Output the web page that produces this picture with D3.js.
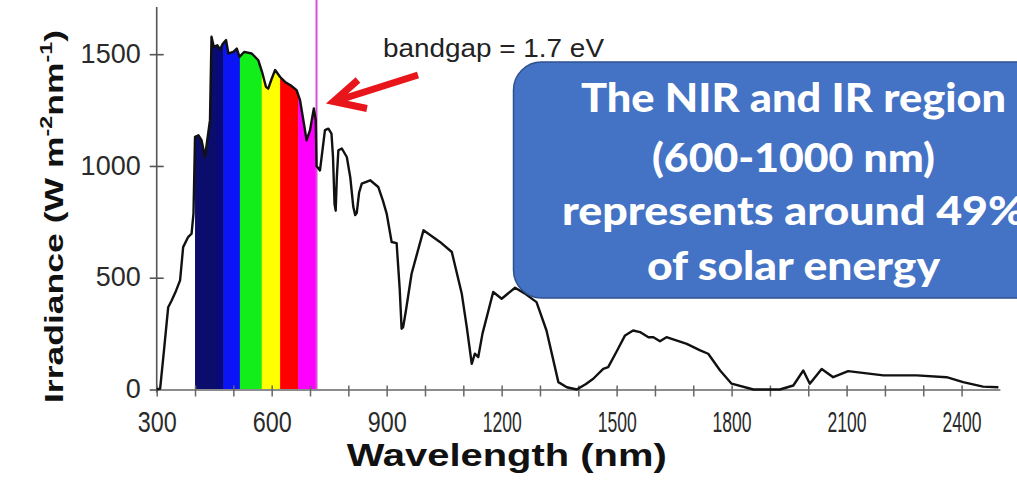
<!DOCTYPE html>
<html>
<head>
<meta charset="utf-8">
<script src="https://cdn.jsdelivr.net/npm/d3@7"></script>
<style>
  html, body { margin: 0; padding: 0; background: #ffffff; }
  svg { display: block; }
</style>
</head>
<body>
<div id="chart"></div>
<script>
// ---------------- data ----------------
const wavelength = [300, 309, 319, 330, 339, 350, 361, 369, 382, 391, 396, 400, 409, 417, 426, 439, 443, 449, 458, 465, 472, 481, 487, 500, 509, 516, 528, 548, 565, 575, 585, 591, 600, 609, 622, 635, 650, 665, 674, 685, 691, 700, 710, 715, 717, 726, 739, 748, 756, 760, 764, 767, 770, 774, 783, 796, 805, 813, 818, 822, 828, 835, 857, 878, 890, 900, 913, 926, 934, 939, 943, 950, 965, 996, 1039, 1070, 1096, 1109, 1122, 1130, 1139, 1150, 1178, 1200, 1235, 1260, 1291, 1317, 1348, 1370, 1396, 1420, 1439, 1465, 1478, 1500, 1522, 1543, 1561, 1583, 1596, 1613, 1630, 1683, 1718, 1739, 1770, 1800, 1857, 1926, 1961, 1987, 2004, 2035, 2065, 2104, 2196, 2283, 2361, 2404, 2456, 2496];
const irradiance = [0, 4, 175, 368, 398, 440, 488, 637, 682, 697, 787, 1130, 1137, 1115, 1040, 1205, 1578, 1533, 1540, 1520, 1545, 1563, 1503, 1510, 1525, 1488, 1510, 1503, 1473, 1420, 1354, 1346, 1390, 1429, 1398, 1376, 1360, 1339, 1294, 1180, 1115, 1160, 1257, 1205, 1000, 980, 1160, 1167, 1145, 1040, 830, 800, 950, 1070, 1078, 1040, 950, 816, 780, 790, 880, 921, 936, 906, 846, 787, 660, 655, 450, 272, 279, 350, 518, 712, 660, 615, 428, 279, 115, 160, 145, 250, 436, 406, 455, 430, 391, 264, 33, 10, 0, 25, 48, 92, 100, 170, 242, 264, 257, 234, 234, 216, 234, 204, 175, 160, 85, 26, 0, 0, 18, 85, 26, 92, 55, 82, 63, 63, 55, 33, 13, 10];

const bandEdges = [400, 456, 474, 517, 574, 622, 669, 717];   // visible spectrum bands (nm)
const bandgapNm = 717;                                          // bandgap marker (nm)
const yTickValues = [0, 500, 1000, 1500];
const xTickLabels = [300, 600, 900, 1200, 1500, 1800, 2100, 2400];
const xMinorTicks = [300, 400, 500, 600, 700, 800, 900, 1000, 1100, 1200, 1300, 1400, 1500, 1600, 1700, 1800, 1900, 2000, 2100, 2200, 2300, 2400];
const xTitle = "Wavelength (nm)";
const bandgapLabel = "bandgap = 1.7 eV";
const calloutLines = ["The NIR and IR region", "(600-1000 nm)", "represents around 49%", "of solar energy"];

// ---------------- styles ----------------
const bandColors = ["#0b0d6c", "#07097c", "#0a14f4", "#12ee1a", "#ffff00", "#ff0000", "#ff00ff"];

const W = 1017, H = 482;
const svg = d3.select("#chart").append("svg").attr("width", W).attr("height", H);
svg.append("rect").attr("width", W).attr("height", H).attr("fill", "#ffffff");

const x = d3.scaleLinear().domain([300, 2500]).range([156.7, 999.9]);
const y = d3.scaleLinear().domain([0, 1720]).range([389.5, 5]);

const pts = wavelength.map((w, i) => [w, irradiance[i]]);

// clip region = area under curve within visible range
const interp = (w) => {
  for (let i = 0; i < wavelength.length - 1; i++) {
    if (w >= wavelength[i] && w <= wavelength[i + 1]) {
      const t = (w - wavelength[i]) / (wavelength[i + 1] - wavelength[i]);
      return irradiance[i] + t * (irradiance[i + 1] - irradiance[i]);
    }
  }
  return 0;
};
const lo = bandEdges[0], hi = bandEdges[bandEdges.length - 1];
const visPts = [[lo, interp(lo)]].concat(pts.filter(p => p[0] > lo && p[0] < hi)).concat([[hi, interp(hi)]]);
const area = d3.area().x(d => x(d[0])).y0(y(0)).y1(d => y(d[1]));
svg.append("clipPath").attr("id", "underCurve").append("path").attr("d", area(visPts));

const bands = svg.append("g").attr("clip-path", "url(#underCurve)");
for (let i = 0; i < bandEdges.length - 1; i++) {
  bands.append("rect")
    .attr("x", x(bandEdges[i]))
    .attr("width", x(bandEdges[i + 1]) - x(bandEdges[i]) + 0.5)
    .attr("y", y(1720))
    .attr("height", y(0) - y(1720))
    .attr("fill", bandColors[i]);
}

// bandgap line
svg.append("line")
  .attr("x1", x(bandgapNm)).attr("x2", x(bandgapNm))
  .attr("y1", 0).attr("y2", y(0))
  .attr("stroke", "#d94fd9").attr("stroke-width", 2);

// axes
const axisColor = "#555";
const yAxis = svg.append("g").attr("transform", `translate(${x(300)},0)`)
  .call(d3.axisLeft(y).tickValues(yTickValues).tickFormat(d3.format("d")).tickSize(7).tickPadding(10).tickSizeOuter(0));
yAxis.select(".domain").attr("stroke", axisColor).attr("stroke-width", 1.6).attr("d", `M0,${y(0) + 3}V${y(1720) + 2}`);
yAxis.selectAll(".tick line").attr("stroke", axisColor).attr("stroke-width", 1.6).attr("x1", -7).attr("x2", 7);
yAxis.selectAll(".tick text")
  .attr("font-family", "'Liberation Sans', Arial, sans-serif")
  .attr("font-size", 27).attr("fill", "#2a2a2a")
  .attr("x", -16).attr("dy", "0.3em");

const xAxisG = svg.append("g").attr("transform", `translate(0,${y(0)})`);
xAxisG.call(d3.axisBottom(x).tickValues(xMinorTicks).tickSize(7).tickFormat("").tickSizeOuter(0));
xAxisG.select(".domain").attr("stroke", "#8c8c8c").attr("stroke-width", 2.2);
xAxisG.selectAll(".tick line").attr("stroke", "#666").attr("stroke-width", 1.5).attr("y1", -4).attr("y2", 7);

const xLab = svg.append("g").attr("transform", `translate(0,${y(0)})`)
  .call(d3.axisBottom(x).tickValues(xTickLabels).tickSize(0).tickPadding(0).tickFormat(d3.format("d")));
xLab.select(".domain").remove();
xLab.selectAll(".tick text")
  .attr("font-family", "'Liberation Sans Narrow', 'Liberation Sans', Arial, sans-serif")
  .attr("font-size", 29).attr("fill", "#2a2a2a")
  .attr("y", 42).attr("dy", 0)
  .attr("textLength", 39).attr("lengthAdjust", "spacingAndGlyphs");

// curve
svg.append("path")
  .attr("d", d3.line().x(d => x(d[0])).y(d => y(d[1]))(pts))
  .attr("fill", "none").attr("stroke", "#111").attr("stroke-width", 2.4)
  .attr("stroke-linejoin", "round");

// axis titles
svg.append("text")
  .attr("x", 506.7).attr("y", 466)
  .attr("text-anchor", "middle")
  .attr("font-family", "'Liberation Sans', Arial, sans-serif")
  .attr("font-weight", "bold").attr("font-size", 31).attr("fill", "#111")
  .attr("textLength", 320).attr("lengthAdjust", "spacingAndGlyphs")
  .text(xTitle);

const yt = svg.append("text")
  .attr("transform", "translate(63,216.5) rotate(-90)")
  .attr("text-anchor", "middle")
  .attr("font-family", "'Liberation Sans', Arial, sans-serif")
  .attr("font-weight", "bold").attr("font-size", 26).attr("fill", "#111")
  .attr("textLength", 373).attr("lengthAdjust", "spacingAndGlyphs");
yt.append("tspan").text("Irradiance (W m");
yt.append("tspan").attr("dy", -11).attr("font-size", 17).text("-2");
yt.append("tspan").attr("dy", 11).text("nm");
yt.append("tspan").attr("dy", -11).attr("font-size", 17).text("-1");
yt.append("tspan").attr("dy", 11).text(")");

// bandgap annotation
svg.append("text")
  .attr("x", 383).attr("y", 56.7)
  .attr("font-family", "'Liberation Sans', Arial, sans-serif")
  .attr("font-size", 25).attr("fill", "#222")
  .attr("textLength", 221).attr("lengthAdjust", "spacingAndGlyphs")
  .text(bandgapLabel);

const tip = [333.5, 101.5];
svg.append("path")
  .attr("d", `M418,75L${tip[0] + 4},${tip[1] - 1}M358,80L${tip[0]},${tip[1]}L367,108.5`)
  .attr("fill", "none").attr("stroke", "#e8161b").attr("stroke-width", 7)
  .attr("stroke-linecap", "butt").attr("stroke-linejoin", "miter");

// callout box
svg.append("rect")
  .attr("x", 513.5).attr("y", 62).attr("width", 560).attr("height", 236)
  .attr("rx", 28).attr("ry", 28)
  .attr("fill", "#4472c4").attr("stroke", "#2f528f").attr("stroke-width", 1.5);

const calloutBase = [111.7, 171.7, 225, 280];
const calloutWidth = [425, 283, 463, 293];
calloutLines.forEach((t, i) => {
  svg.append("text")
    .attr("x", 793.5).attr("y", calloutBase[i])
    .attr("text-anchor", "middle")
    .attr("font-family", "Lato, 'Open Sans', sans-serif")
    .attr("font-weight", 900).attr("font-size", 39).attr("fill", "#ffffff")
    .attr("textLength", calloutWidth[i]).attr("lengthAdjust", "spacingAndGlyphs")
    .text(t);
});
</script>
</body>
</html>
